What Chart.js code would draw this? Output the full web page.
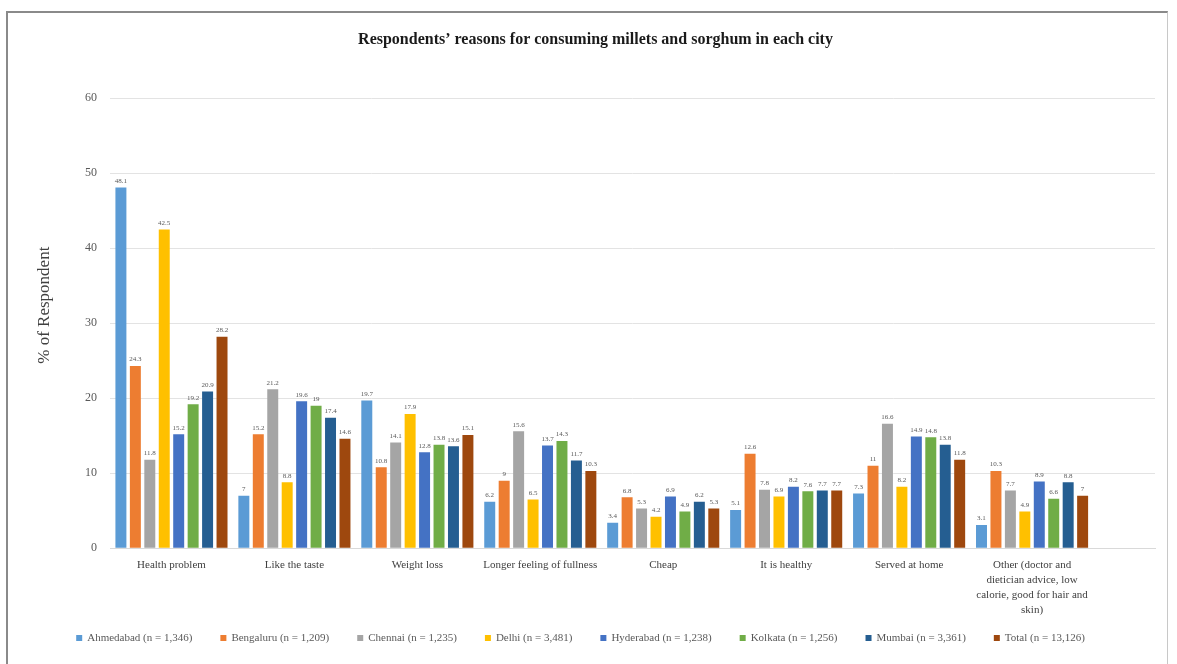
<!DOCTYPE html>
<html>
<head>
<meta charset="utf-8">
<script src="https://cdn.jsdelivr.net/npm/chart.js@4.4.1/dist/chart.umd.min.js"></script>
<style>
  html, body { margin: 0; padding: 0; background: #fff; }
  #frame {
    position: absolute; left: 6px; top: 11px; width: 1162px; height: 660px;
    border-left: 2px solid #8a8a8a; border-top: 2px solid #8a8a8a; border-right: 1px solid #c8c8c8;
    box-sizing: border-box;
  }
  #wrap { position: absolute; left: 8px; top: 13px; width: 1159px; height: 651px; }
</style>
</head>
<body>
<div id="frame"></div>
<div id="wrap"><canvas id="c"></canvas></div>
<script>
const categories = [
  'Health problem',
  'Like the taste',
  'Weight loss',
  'Longer feeling of fullness',
  'Cheap',
  'It is healthy',
  'Served at home',
  ['Other (doctor and', 'dietician advice, low', 'calorie, good for hair and', 'skin)']
];

const ahmedabad = [48.1, 7, 19.7, 6.2, 3.4, 5.1, 7.3, 3.1];
const bengaluru = [24.3, 15.2, 10.8, 9, 6.8, 12.6, 11, 10.3];
const chennai   = [11.8, 21.2, 14.1, 15.6, 5.3, 7.8, 16.6, 7.7];
const delhi     = [42.5, 8.8, 17.9, 6.5, 4.2, 6.9, 8.2, 4.9];
const hyderabad = [15.2, 19.6, 12.8, 13.7, 6.9, 8.2, 14.9, 8.9];
const kolkata   = [19.2, 19, 13.8, 14.3, 4.9, 7.6, 14.8, 6.6];
const mumbai    = [20.9, 17.4, 13.6, 11.7, 6.2, 7.7, 13.8, 8.8];
const total     = [28.2, 14.6, 15.1, 10.3, 5.3, 7.7, 11.8, 7];

const seriesNames = [
  'Ahmedabad (n = 1,346)', 'Bengaluru (n = 1,209)', 'Chennai (n = 1,235)', 'Delhi (n = 3,481)',
  'Hyderabad (n = 1,238)', 'Kolkata (n = 1,256)', 'Mumbai (n = 3,361)', 'Total (n = 13,126)'
];
const seriesColors = ['#5B9BD5', '#ED7D31', '#A5A5A5', '#FFC000', '#4472C4', '#70AD47', '#255E91', '#9E480E'];
const yTicks = [0, 10, 20, 30, 40, 50, 60];
const yTitle = '% of Respondent';

const seriesData = [ahmedabad, bengaluru, chennai, delhi, hyderabad, kolkata, mumbai, total];
const serif = '"Liberation Serif", "DejaVu Serif", serif';

// value labels printed just above each bar
const barValueLabels = {
  id: 'barValueLabels',
  afterDatasetsDraw(chart) {
    const ctx = chart.ctx;
    ctx.save();
    ctx.font = '7px ' + serif;
    ctx.fillStyle = '#595959';
    ctx.textAlign = 'center';
    ctx.textBaseline = 'bottom';
    chart.data.datasets.forEach((ds, i) => {
      chart.getDatasetMeta(i).data.forEach((bar, j) => {
        ctx.fillText(String(seriesData[i][j]), bar.x, bar.y - 3);
      });
    });
    ctx.restore();
  }
};

// rotated y-axis caption, set slightly above the middle of the plot
const yCaption = {
  id: 'yCaption',
  afterDraw(chart) {
    const ctx = chart.ctx;
    const area = chart.chartArea;
    ctx.save();
    ctx.translate(chart.scales.y.left + 9, area.top + (area.bottom - area.top) * 0.46);
    ctx.rotate(-Math.PI / 2);
    ctx.font = '17px ' + serif;
    ctx.fillStyle = '#404040';
    ctx.textAlign = 'center';
    ctx.textBaseline = 'middle';
    ctx.fillText(yTitle, 0, 0);
    ctx.restore();
  }
};

// one-row legend under the category labels
const bottomLegend = {
  id: 'bottomLegend',
  afterDraw(chart) {
    const ctx = chart.ctx;
    const box = 6, gap = 5, spacing = 28;
    ctx.save();
    ctx.font = '11px ' + serif;
    const widths = chart.data.datasets.map(ds => box + gap + ctx.measureText(ds.label).width);
    const full = widths.reduce((a, b) => a + b, 0) + spacing * (widths.length - 1);
    let x = chart.width / 2 - 7 - full / 2;
    const y = chart.height - 26;
    ctx.textBaseline = 'middle';
    ctx.textAlign = 'left';
    chart.data.datasets.forEach((ds, i) => {
      ctx.fillStyle = ds.backgroundColor;
      ctx.fillRect(x, y - box / 2, box, box);
      ctx.fillStyle = '#595959';
      ctx.fillText(ds.label, x + box + gap, y);
      x += widths[i] + spacing;
    });
    ctx.restore();
  }
};

new Chart(document.getElementById('c'), {
  type: 'bar',
  data: {
    datasets: seriesData.map((d, i) => ({
      label: seriesNames[i],
      data: d.map((v, j) => ({ x: j, y: v })),
      backgroundColor: seriesColors[i],
      borderWidth: 0,
      categoryPercentage: 0.94,
      barPercentage: 0.76
    }))
  },
  options: {
    responsive: true,
    maintainAspectRatio: false,
    animation: false,
    layout: { padding: { left: 28, right: 12, top: 14, bottom: 37 } },
    plugins: {
      title: {
        display: true,
        text: 'Respondents\u2019 reasons for consuming millets and sorghum in each city',
        font: { family: serif, size: 16, weight: 'bold' },
        color: '#1a1a1a',
        padding: { top: 3, bottom: 49 }
      },
      legend: { display: false },
      tooltip: { enabled: false }
    },
    scales: {
      x: {
        type: 'linear',
        offset: false,
        min: -0.5,
        max: 8,
        afterBuildTicks(scale) { scale.ticks = categories.map((c, i) => ({ value: i })); },
        grid: { display: false, drawTicks: false, offset: false },
        border: { display: true, color: '#d9d9d9' },
        ticks: {
          callback: (v) => categories[v],
          font: { family: serif, size: 11, lineHeight: 1.36 },
          color: '#404040',
          maxRotation: 0,
          autoSkip: false,
          padding: 9.5
        }
      },
      y: {
        min: 0,
        max: 60,
        afterBuildTicks(scale) { scale.ticks = yTicks.map(v => ({ value: v })); },
        afterFit(scale) { scale.width = 74; },
        grid: { color: '#e3e3e3', drawTicks: false },
        border: { display: false },
        ticks: {
          font: { family: serif, size: 12 },
          color: '#595959',
          padding: 13
        }
      }
    }
  },
  plugins: [barValueLabels, yCaption, bottomLegend]
});
</script>
</body>
</html>
